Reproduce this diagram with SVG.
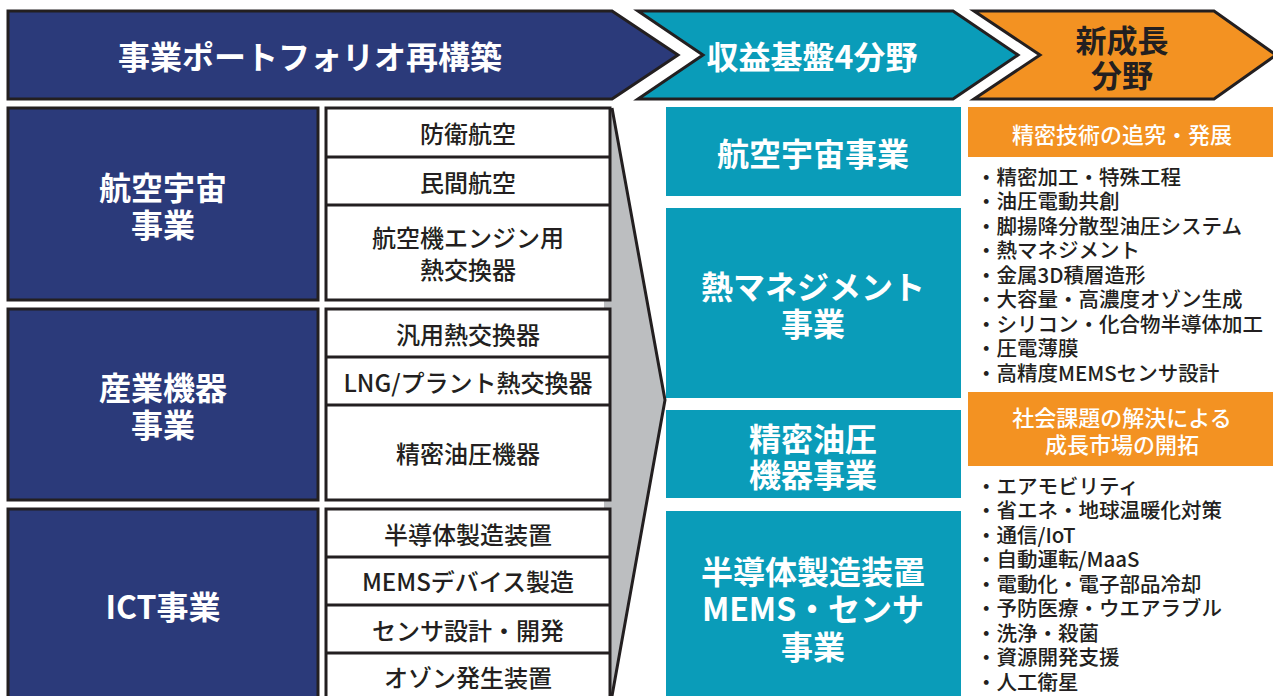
<svg xmlns="http://www.w3.org/2000/svg" width="1273" height="696" viewBox="0 0 1273 696">
<style>
text{font-family:"Noto Sans CJK JP","Noto Sans",sans-serif;dominant-baseline:central;text-anchor:middle}
.hd{fill:#fff;font-size:32px;font-weight:700}
.hdk{fill:#231f20;font-size:31px;font-weight:700}
.nv{fill:#2b3a7a;stroke:#231f20;stroke-width:3}
.wb{fill:#fff;stroke:#231f20;stroke-width:3}
.dv{stroke:#231f20;stroke-width:3}
.lw{fill:#fff;font-size:32px;font-weight:700}
.sl{fill:#231f20;font-size:24px;font-weight:500}
.tb{fill:#0a9cb9}
.ob{fill:#f39222}
.oh{fill:#fff;font-size:22px;font-weight:500}
.li{fill:#231f20;font-size:20.5px;font-weight:500;text-anchor:start}
</style>
<rect width="1273" height="696" fill="#fff"/>
<g id="header-portfolio">
<polygon points="8,11 612,11 678,55 612,99 8,99" fill="#2b3a7a" stroke="#231f20" stroke-width="3"/>
<text class="hd" x="310" y="55">事業ポートフォリオ再構築</text>
</g>
<g id="header-core">
<polygon points="638,11 953,11 1018,55 953,99 638,99 703,55" fill="#0a9cb9" stroke="#231f20" stroke-width="3"/>
<text class="hd" x="812" y="55">収益基盤4分野</text>
</g>
<g id="header-new">
<polygon points="974,11 1214,11 1276,55 1214,99 974,99 1040,55" fill="#f39222" stroke="#231f20" stroke-width="3"/>
<text class="hdk" x="1122" y="38">新成長</text>
<text class="hdk" x="1122" y="73">分野</text>
</g>
<g id="connectors">
<polygon points="604,108 612,108 665,400 612,696 604,696" fill="#bcbec0"/>
<polyline points="612,108 665,400 612,696" fill="none" stroke="#231f20" stroke-width="3"/>
</g>
<g id="aerospace">
<rect class="nv" x="8" y="108" width="310" height="192"/>
<text class="lw" x="163" y="186">航空宇宙</text>
<text class="lw" x="163" y="223">事業</text>
</g>
<g id="aerospace-sub">
<rect class="wb" x="326" y="108" width="284" height="192"/>
<line class="dv" x1="326" y1="157" x2="610" y2="157"/>
<line class="dv" x1="326" y1="205" x2="610" y2="205"/>
<text class="sl" x="468" y="132">防衛航空</text>
<text class="sl" x="468" y="181">民間航空</text>
<text class="sl" x="468" y="236">航空機エンジン用</text>
<text class="sl" x="468" y="268">熱交換器</text>
</g>
<g id="industrial">
<rect class="nv" x="8" y="309" width="310" height="191"/>
<text class="lw" x="163" y="386">産業機器</text>
<text class="lw" x="163" y="423">事業</text>
</g>
<g id="industrial-sub">
<rect class="wb" x="326" y="309" width="284" height="191"/>
<line class="dv" x1="326" y1="357" x2="610" y2="357"/>
<line class="dv" x1="326" y1="405" x2="610" y2="405"/>
<text class="sl" x="468" y="333">汎用熱交換器</text>
<text class="sl" x="468" y="381">LNG/プラント熱交換器</text>
<text class="sl" x="468" y="452">精密油圧機器</text>
</g>
<g id="ict">
<rect class="nv" x="8" y="509" width="310" height="195"/>
<text class="lw" x="163" y="605">ICT事業</text>
</g>
<g id="ict-sub">
<rect class="wb" x="326" y="509" width="284" height="195"/>
<line class="dv" x1="326" y1="557" x2="610" y2="557"/>
<line class="dv" x1="326" y1="605" x2="610" y2="605"/>
<line class="dv" x1="326" y1="653" x2="610" y2="653"/>
<text class="sl" x="468" y="533">半導体製造装置</text>
<text class="sl" x="468" y="580">MEMSデバイス製造</text>
<text class="sl" x="468" y="629">センサ設計・開発</text>
<text class="sl" x="468" y="676">オゾン発生装置</text>
</g>
<g id="core-aerospace">
<rect class="tb" x="666" y="107" width="295" height="89"/>
<text class="lw" x="813" y="152">航空宇宙事業</text>
</g>
<g id="core-thermal">
<rect class="tb" x="666" y="208" width="295" height="190"/>
<text class="lw" x="813" y="285">熱マネジメント</text>
<text class="lw" x="813" y="322">事業</text>
</g>
<g id="core-hydraulic">
<rect class="tb" x="666" y="410" width="295" height="88"/>
<text class="lw" x="813" y="437">精密油圧</text>
<text class="lw" x="813" y="473">機器事業</text>
</g>
<g id="core-semi">
<rect class="tb" x="666" y="511" width="295" height="190"/>
<text class="lw" x="813" y="570">半導体製造装置</text>
<text class="lw" x="813" y="607">MEMS・センサ</text>
<text class="lw" x="813" y="645">事業</text>
</g>
<g id="new-precision">
<rect class="ob" x="968" y="107" width="305" height="50"/>
<text class="oh" x="1122" y="133">精密技術の追究・発展</text>
<text class="li" x="976" y="176">・精密加工・特殊工程</text>
<text class="li" x="976" y="200">・油圧電動共創</text>
<text class="li" x="976" y="225">・脚揚降分散型油圧システム</text>
<text class="li" x="976" y="249">・熱マネジメント</text>
<text class="li" x="976" y="274">・金属3D積層造形</text>
<text class="li" x="976" y="298">・大容量・高濃度オゾン生成</text>
<text class="li" x="976" y="323">・シリコン・化合物半導体加工</text>
<text class="li" x="976" y="347">・圧電薄膜</text>
<text class="li" x="976" y="372">・高精度MEMSセンサ設計</text>
</g>
<g id="new-social">
<rect class="ob" x="968" y="392" width="305" height="74"/>
<text class="oh" x="1122" y="416">社会課題の解決による</text>
<text class="oh" x="1122" y="443">成長市場の開拓</text>
<text class="li" x="976" y="485">・エアモビリティ</text>
<text class="li" x="976" y="509">・省エネ・地球温暖化対策</text>
<text class="li" x="976" y="534">・通信/IoT</text>
<text class="li" x="976" y="558">・自動運転/MaaS</text>
<text class="li" x="976" y="583">・電動化・電子部品冷却</text>
<text class="li" x="976" y="607">・予防医療・ウエアラブル</text>
<text class="li" x="976" y="632">・洗浄・殺菌</text>
<text class="li" x="976" y="656">・資源開発支援</text>
<text class="li" x="976" y="681">・人工衛星</text>
</g>
</svg>
